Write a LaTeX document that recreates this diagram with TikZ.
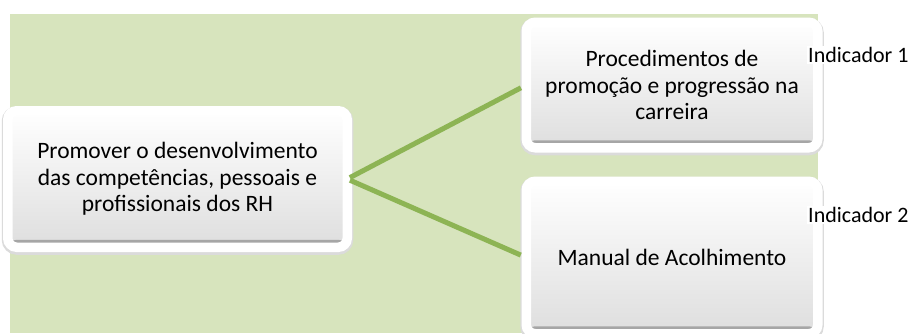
\documentclass[tikz,border=0pt]{standalone}
\usepackage{fontspec}
\setmainfont{Carlito}
\usetikzlibrary{positioning}
\definecolor{bgolive}{RGB}{215,228,189}
\definecolor{linkgreen}{RGB}{141,180,84}

\begin{document}
\begin{tikzpicture}[x=1pt,y=-1pt,
  topic/.style={rectangle, rounded corners=9pt, draw=white, line width=9.5pt,
    outer sep=0pt, inner sep=0pt, align=center,
    top color=white, bottom color=black!13,
    font=\fontsize{23.5}{26.5}\selectfont,
    preaction={draw=black!14, line width=12pt, transform canvas={yshift=-1.5pt}},
    path picture={\fill[black!35] ([yshift=4.5pt]path picture bounding box.south west)
      rectangle ([yshift=7.5pt]path picture bounding box.south east);}},
  link/.style={draw=linkgreen, line width=5pt},
  tag/.style={fill=white, inner sep=1pt, anchor=west, font=\fontsize{22}{24}\selectfont}]

  \useasboundingbox (0,0) rectangle (908,333);
  % background panel
  \fill[bgolive] (10,14) rectangle (818,333);

  % boxes
  \node[topic, minimum width=339.5pt, minimum height=136.5pt] (goal) at (177.5,179)
    {Promover o desenvolvimento\\das competências, pessoais e\\profissionais dos RH};
  \node[topic, minimum width=291.5pt, minimum height=125.5pt] (proc) at (672,85)
    {Procedimentos de\\promoção e progressão na\\carreira};
  \node[topic, minimum width=291.5pt, minimum height=152.5pt] (manual) at (672,257.5)
    {Manual de Acolhimento};

  % links
  \draw[link, shorten <=3pt, shorten >=6pt] (goal.east) -- (proc.west);
  \draw[link, shorten <=3pt, shorten >=6pt] (goal.east) -- (manual.west);

  % indicators
  \node[tag] (ind1) at (807,55) {Indicador 1};
  \node[tag] (ind2) at (807,215) {Indicador 2};

\end{tikzpicture}
\end{document}
